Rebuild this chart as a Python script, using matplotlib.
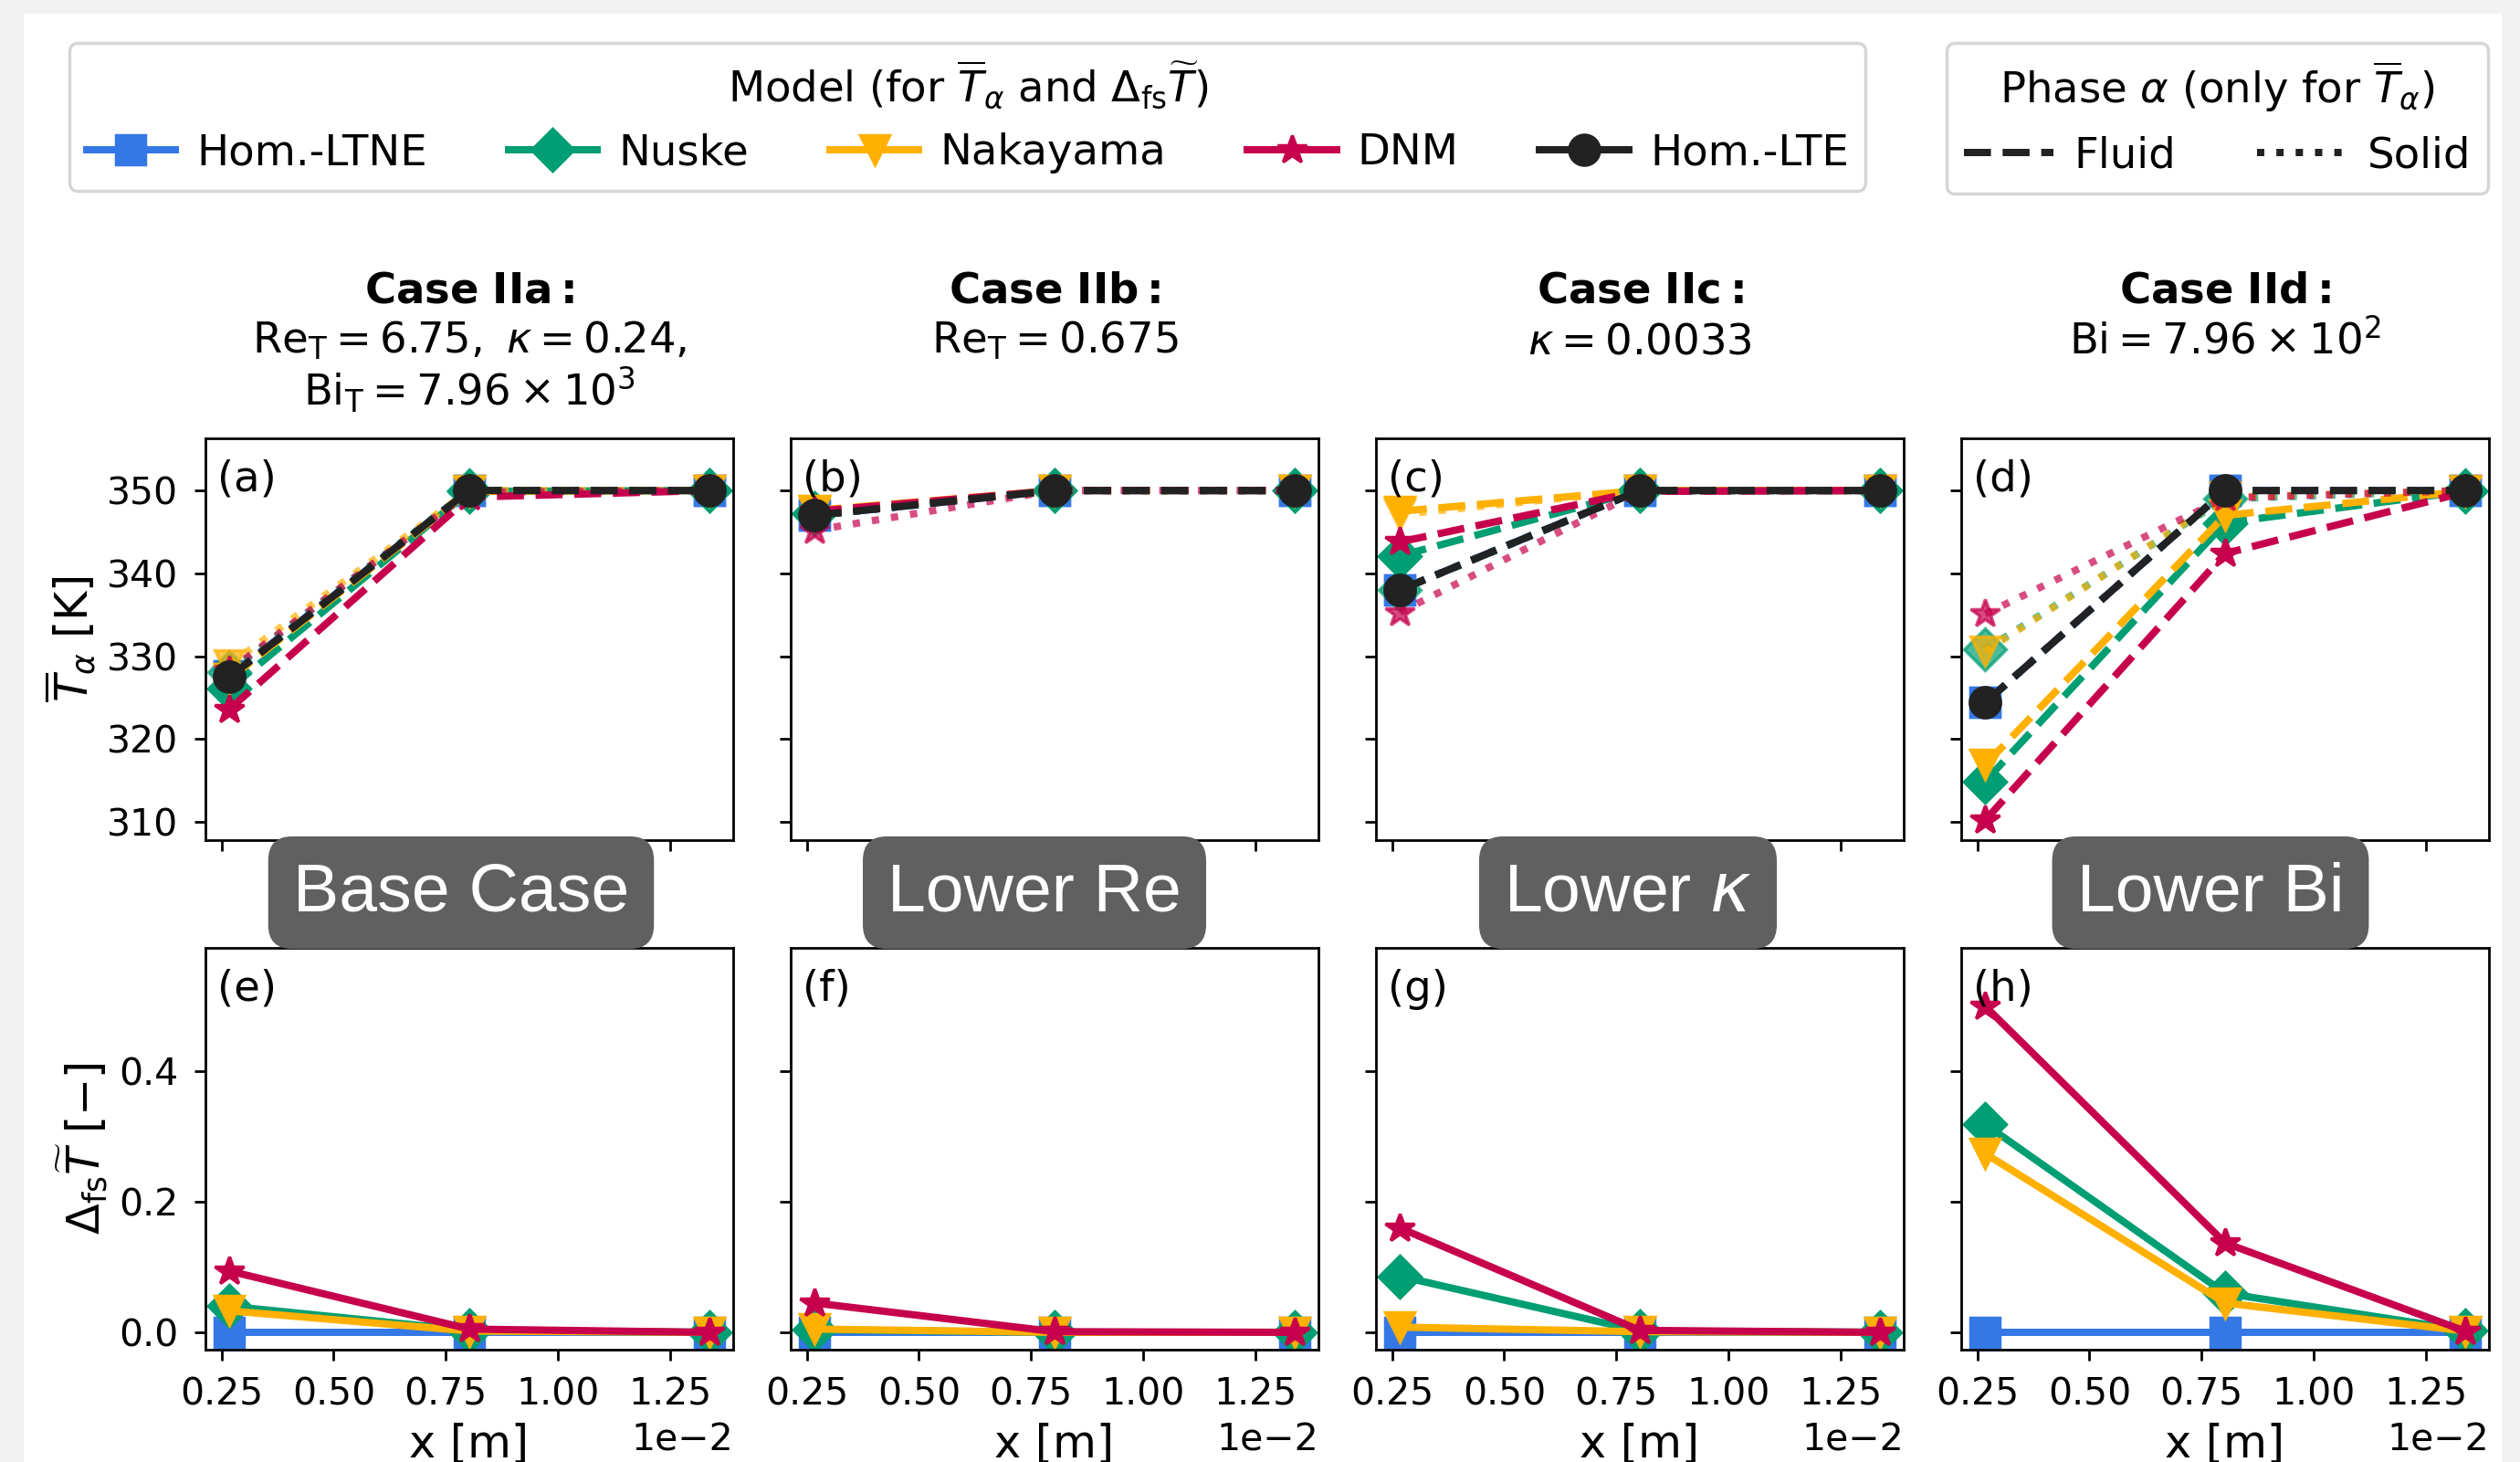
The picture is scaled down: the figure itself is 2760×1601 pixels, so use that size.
import matplotlib
matplotlib.use("Agg")
import matplotlib.pyplot as plt
from matplotlib.lines import Line2D
from matplotlib.patches import Rectangle
import numpy as np

# ---------------- data ----------------
x_m = [0.2675e-2, 0.8025e-2, 1.3375e-2]

models = ["Hom.-LTNE", "Nuske", "Nakayama", "DNM", "Hom.-LTE"]
colors = {"Hom.-LTNE": "#3478e6", "Nuske": "#009e73", "Nakayama": "#ffb000",
          "DNM": "#c6004c", "Hom.-LTE": "#222222"}
markers = {"Hom.-LTNE": "s", "Nuske": "D", "Nakayama": "v", "DNM": "*", "Hom.-LTE": "o"}

case_titles = [r"$\bf{Case\ IIa:}$", r"$\bf{Case\ IIb:}$", r"$\bf{Case\ IIc:}$", r"$\bf{Case\ IId:}$"]
case_params = [
    [r"$\mathrm{Re}_\mathrm{T} = 6.75,\ \kappa = 0.24,$", r"$\mathrm{Bi}_\mathrm{T} = 7.96\times10^3$"],
    [r"$\mathrm{Re}_\mathrm{T} = 0.675$"],
    [r"$\kappa = 0.0033$"],
    [r"$\mathrm{Bi} = 7.96\times10^2$"],
]
case_tags = ["Base Case", "Lower Re", r"Lower $\kappa$", "Lower Bi"]
top_letters = ["(a)", "(b)", "(c)", "(d)"]
bot_letters = ["(e)", "(f)", "(g)", "(h)"]

# mean temperatures [K]: fluid / solid per case
T_fluid = {
    "Hom.-LTNE": [[327.6, 350.0, 350.0], [347.0, 350.0, 350.0], [338.0, 350.0, 350.0], [324.4, 350.0, 350.0]],
    "Nuske":     [[326.1, 349.9, 350.0], [347.3, 350.0, 350.0], [342.1, 350.0, 350.0], [314.9, 346.1, 349.9]],
    "Nakayama":  [[327.3, 349.9, 350.0], [347.6, 350.0, 350.0], [347.5, 350.0, 350.0], [316.9, 347.0, 349.9]],
    "DNM":       [[323.6, 349.2, 350.0], [347.5, 350.0, 350.0], [343.8, 349.9, 350.0], [310.2, 342.4, 349.8]],
    "Hom.-LTE":  [[327.5, 350.0, 350.0], [347.0, 350.0, 350.0], [338.0, 350.0, 350.0], [324.4, 350.0, 350.0]],
}
T_solid = {
    "Hom.-LTNE": [[327.6, 350.0, 350.0], [347.0, 350.0, 350.0], [338.0, 350.0, 350.0], [324.4, 350.0, 350.0]],
    "Nuske":     [[328.1, 350.0, 350.0], [347.1, 350.0, 350.0], [338.0, 350.0, 350.0], [330.8, 349.0, 350.0]],
    "Nakayama":  [[329.0, 350.0, 350.0], [347.4, 350.0, 350.0], [347.1, 350.0, 350.0], [330.6, 349.2, 350.0]],
    "DNM":       [[328.3, 349.8, 350.0], [345.2, 350.0, 350.0], [335.3, 349.9, 350.0], [335.1, 349.1, 350.0]],
    "Hom.-LTE":  [[327.5, 350.0, 350.0], [347.0, 350.0, 350.0], [338.0, 350.0, 350.0], [324.4, 350.0, 350.0]],
}
# fluid-solid difference [-]
dT = {
    "Hom.-LTNE": [[0.0, 0.0, 0.0], [0.0, 0.0, 0.0], [0.0, 0.0, 0.0], [0.0, 0.0, 0.0]],
    "Nuske":     [[0.040, 0.003, 0.0], [0.004, 0.0, 0.0], [0.086, 0.002, 0.0], [0.319, 0.060, 0.003]],
    "Nakayama":  [[0.033, 0.002, 0.0], [0.005, 0.0, 0.0], [0.008, 0.001, 0.0], [0.274, 0.045, 0.002]],
    "DNM":       [[0.094, 0.005, 0.0], [0.045, 0.001, 0.0], [0.160, 0.003, 0.0], [0.500, 0.137, 0.002]],
}

# ---------------- layout ----------------
W, H = 2760, 1601
DPI = 250
fig = plt.figure(figsize=(W / DPI, H / DPI), dpi=DPI)
fig.patch.set_facecolor("#f2f2f2")
fig.add_artist(Rectangle((26 / W, 0), (2740 - 26) / W, 1 - 15 / H, transform=fig.transFigure,
                         facecolor="white", edgecolor="none", zorder=-10))

lefts = [225, 866, 1507, 2148]
aw = 578
top_row = (480, 920)
bot_row = (1038, 1478)
FS = 13.4
TFS = 11.8
LFS = 14.2
LW = 2.3
MS = 9.5

def fig_rect(l, t, b):
    return [l / W, 1 - b / H, aw / W, (b - t) / H]

axes_top, axes_bot = [], []
for i in range(4):
    at = fig.add_axes(fig_rect(lefts[i], *top_row))
    ab = fig.add_axes(fig_rect(lefts[i], *bot_row))
    axes_top.append(at)
    axes_bot.append(ab)

for i in range(4):
    at, ab = axes_top[i], axes_bot[i]
    for m in models:
        at.plot(x_m, T_fluid[m][i], ls="--", color=colors[m], marker=markers[m], lw=LW, ms=MS)
        at.plot(x_m, T_solid[m][i], ls=":", color=colors[m], marker=markers[m], lw=LW, ms=MS, alpha=0.7)
    for m in models[:4]:
        ab.plot(x_m, dT[m][i], ls="-", color=colors[m], marker=markers[m], lw=LW, ms=MS)

    at.set_ylim(307.8, 356.3)
    at.set_yticks([310, 320, 330, 340, 350])
    ab.set_ylim(-0.0266, 0.5895)
    ab.set_yticks([0.0, 0.2, 0.4])
    for a in (at, ab):
        a.tick_params(labelsize=TFS, pad=5)
        a.ticklabel_format(axis="x", style="sci", scilimits=(0, 0))
        a.xaxis.get_offset_text().set_fontsize(TFS)
    at.set_xticks([0.25e-2, 0.5e-2, 0.75e-2, 1.0e-2, 1.25e-2])
    ab.set_xticks([0.25e-2, 0.5e-2, 0.75e-2, 1.0e-2, 1.25e-2])
    at.set_xlim(ab.get_xlim())
    at.tick_params(labelbottom=False)
    at.xaxis.get_offset_text().set_visible(False)
    if i > 0:
        at.tick_params(labelleft=False)
        ab.tick_params(labelleft=False)
    ab.set_xlabel("x [m]", fontsize=LFS, labelpad=3)

    at.text(0.022, 0.948, top_letters[i], transform=at.transAxes, fontsize=FS, va="top", ha="left")
    ab.text(0.022, 0.948, bot_letters[i], transform=ab.transAxes, fontsize=FS, va="top", ha="left")

    cx = (lefts[i] + aw / 2) / W
    fig.text(cx, 1 - 332 / H, case_titles[i], fontsize=FS, ha="center", va="baseline")
    for k, line in enumerate(case_params[i]):
        fig.text(cx, 1 - (387 + 57 * k) / H, line, fontsize=FS, ha="center", va="baseline")

axes_top[0].set_ylabel(r"$\overline{T}_\alpha$ [K]", fontsize=LFS, labelpad=3)
axes_bot[0].set_ylabel(r"$\Delta_\mathrm{fs}\widetilde{T}$ [$-$]", fontsize=LFS, labelpad=3)

tag_cx = [505, 1133, 1783, 2421]
for i in range(4):
    fig.text(tag_cx[i] / W, 1 - 977.5 / H, case_tags[i], fontsize=21.7, color="white",
             family="Liberation Sans", ha="center", va="center", zorder=5,
             bbox=dict(boxstyle="round,pad=0.36,rounding_size=0.35", facecolor="#606060", edgecolor="none"))

# legends
h1 = [Line2D([], [], color=colors[m], marker=markers[m], lw=LW, ms=MS) for m in models]
leg1 = fig.legend(h1, models, loc="upper left", bbox_to_anchor=(76 / W, 1 - 47 / H), ncol=5,
                  title=r"Model (for $\overline{T}_\alpha$ and $\Delta_\mathrm{fs}\widetilde{T}$)",
                  fontsize=FS, title_fontsize=FS, handlelength=2.1, handletextpad=0.5,
                  columnspacing=1.9, borderaxespad=0)
h2 = [Line2D([], [], color="#222222", ls="--", lw=LW), Line2D([], [], color="#222222", ls=":", lw=LW)]
leg2 = fig.legend(h2, ["Fluid", "Solid"], loc="upper right", bbox_to_anchor=(2725 / W, 1 - 47 / H), ncol=2,
                  title=r"Phase $\alpha$ (only for $\overline{T}_\alpha$)",
                  fontsize=FS, title_fontsize=FS, handlelength=2.1, handletextpad=0.5,
                  columnspacing=1.9, borderaxespad=0)

fig.savefig("out.png", dpi=DPI, facecolor=fig.get_facecolor())
